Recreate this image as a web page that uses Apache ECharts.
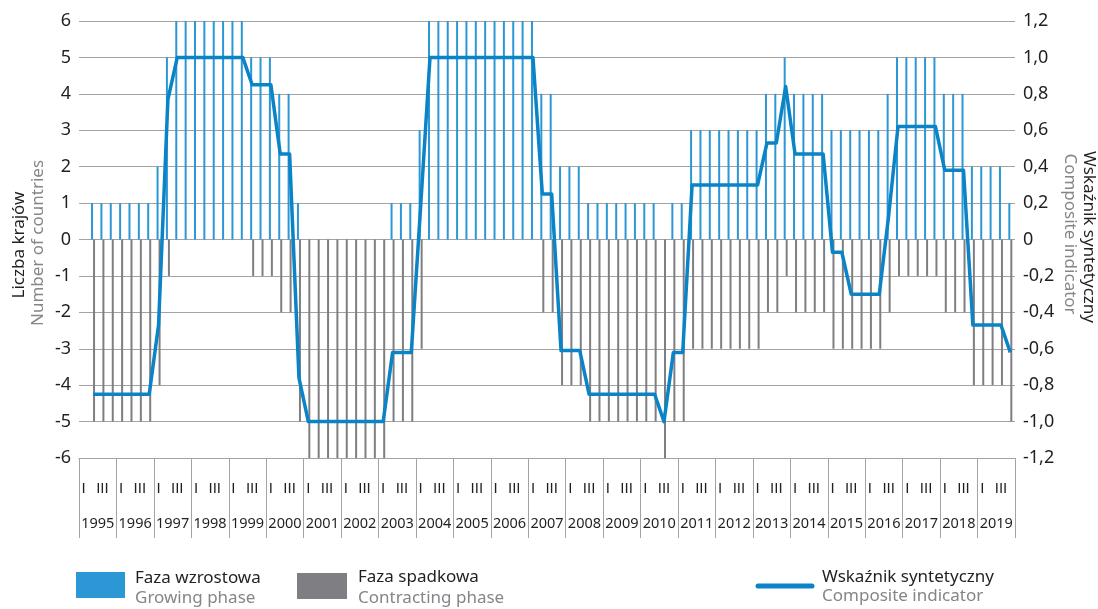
<!DOCTYPE html>
<html>
<head>
<meta charset="utf-8">
<title>Faza wzrostowa / spadkowa</title>
<script src="https://cdn.jsdelivr.net/npm/echarts@6/dist/echarts.min.js"></script>
<style>
  html, body { margin: 0; padding: 0; background: #fff; }
  #chart { width: 1098px; height: 609px; }
</style>
</head>
<body>
<div id="chart"></div>
<script>
// lata i kwartaly
const years = ['1995', '1996', '1997', '1998', '1999', '2000', '2001', '2002', '2003', '2004',
  '2005', '2006', '2007', '2008', '2009', '2010', '2011', '2012', '2013', '2014',
  '2015', '2016', '2017', '2018', '2019'];
const quarterNames = ['I', 'II', 'III', 'IV'];
const quarterTickLabels = ['I', '', 'III', ''];

// liczba krajow w fazie wzrostowej
const growing = [
  null, 1, 1, 1,   // 1995
  1, 1, 1, 1,      // 1996
  2, 5, 6, 6,      // 1997
  6, 6, 6, 6,      // 1998
  6, 6, 5, 5,      // 1999
  5, 4, 4, 1,      // 2000
  0, 0, 0, 0,      // 2001
  0, 0, 0, 0,      // 2002
  0, 1, 1, 1,      // 2003
  3, 6, 6, 6,      // 2004
  6, 6, 6, 6,      // 2005
  6, 6, 6, 6,      // 2006
  6, 4, 4, 2,      // 2007
  2, 2, 1, 1,      // 2008
  1, 1, 1, 1,      // 2009
  1, 1, 0, 1,      // 2010
  1, 3, 3, 3,      // 2011
  3, 3, 3, 3,      // 2012
  3, 4, 4, 5,      // 2013
  4, 4, 4, 4,      // 2014
  3, 3, 3, 3,      // 2015
  3, 3, 4, 5,      // 2016
  5, 5, 5, 5,      // 2017
  4, 4, 4, 2,      // 2018
  2, 2, 2, 1       // 2019
];

// liczba krajow w fazie spadkowej
const contracting = [
  null, -5, -5, -5,
  -5, -5, -5, -5,
  -4, -1, 0, 0,
  0, 0, 0, 0,
  0, 0, -1, -1,
  -1, -2, -2, -5,
  -6, -6, -6, -6,
  -6, -6, -6, -6,
  -6, -5, -5, -5,
  -3, 0, 0, 0,
  0, 0, 0, 0,
  0, 0, 0, 0,
  0, -2, -2, -4,
  -4, -4, -5, -5,
  -5, -5, -5, -5,
  -5, -5, -6, -5,
  -5, -3, -3, -3,
  -3, -3, -3, -3,
  -3, -2, -2, -1,
  -2, -2, -2, -2,
  -3, -3, -3, -3,
  -3, -3, -2, -1,
  -1, -1, -1, -1,
  -2, -2, -2, -4,
  -4, -4, -4, -5
];

// wskaznik syntetyczny
const composite = [
  null, -0.85, -0.85, -0.85,
  -0.85, -0.85, -0.85, -0.85,
  -0.47, 0.77, 1.0, 1.0,
  1.0, 1.0, 1.0, 1.0,
  1.0, 1.0, 0.85, 0.85,
  0.85, 0.47, 0.47, -0.76,
  -1.0, -1.0, -1.0, -1.0,
  -1.0, -1.0, -1.0, -1.0,
  -1.0, -0.62, -0.62, -0.62,
  0.18, 1.0, 1.0, 1.0,
  1.0, 1.0, 1.0, 1.0,
  1.0, 1.0, 1.0, 1.0,
  1.0, 0.25, 0.25, -0.61,
  -0.61, -0.61, -0.85, -0.85,
  -0.85, -0.85, -0.85, -0.85,
  -0.85, -0.85, -1.0, -0.62,
  -0.62, 0.30, 0.30, 0.30,
  0.30, 0.30, 0.30, 0.30,
  0.30, 0.53, 0.53, 0.84,
  0.47, 0.47, 0.47, 0.47,
  -0.07, -0.07, -0.30, -0.30,
  -0.30, -0.30, 0.13, 0.62,
  0.62, 0.62, 0.62, 0.62,
  0.38, 0.38, 0.38, -0.47,
  -0.47, -0.47, -0.47, -0.62
];

const quarters = [];
years.forEach(function (y) {
  quarterNames.forEach(function (q) { quarters.push(y + ' ' + q); });
});

const FONT = '"Noto Sans", sans-serif';
const DARK = '#231f20';
const GREY_TEXT = '#85858a';
const BLUE = '#2c97d5';
const GREY = '#7e7e83';
const LINE = '#0a83c7';
const GRID = '#a3a3a3';

const chart = echarts.init(document.getElementById('chart'));

chart.setOption({
  animation: false,
  textStyle: { fontFamily: FONT },
  grid: { left: 79, right: 83, top: 21, bottom: 151 },
  xAxis: [
    {
      type: 'category',
      data: quarters,
      axisLine: { onZero: false, lineStyle: { color: GRID } },
      axisTick: { show: false },
      axisLabel: {
        interval: 0,
        margin: 23,
        fontSize: 15,
        fontFamily: '"Liberation Sans", sans-serif',
        color: DARK,
        formatter: function (v, i) { return quarterTickLabels[i % 4]; }
      }
    },
    {
      // lata - osobna os z separatorami
      type: 'category',
      data: years,
      position: 'bottom',
      axisLine: { show: false, onZero: false },
      axisTick: { show: true, interval: 0, length: 80, lineStyle: { color: GRID } },
      axisLabel: { interval: 0, margin: 58, fontSize: 14.5, fontFamily: 'Noto Sans', color: DARK }
    }
  ],
  yAxis: [
    {
      type: 'value',
      min: -6,
      max: 6,
      interval: 1,
      axisLine: { show: false },
      axisTick: { show: false },
      axisLabel: { fontSize: 18, color: DARK, margin: 8 },
      splitLine: { lineStyle: { color: GRID, width: 1 } }
    },
    {
      type: 'value',
      min: -1.2,
      max: 1.2,
      interval: 0.2,
      axisLine: { show: false },
      axisTick: { show: false },
      splitLine: { show: false },
      axisLabel: {
        fontSize: 18,
        color: DARK,
        margin: 8,
        formatter: function (v) {
          if (Math.abs(v) < 1e-9) return '0';
          return v.toFixed(1).replace('.', ',');
        }
      }
    }
  ],
  series: [
    {
      name: 'Faza wzrostowa',
      type: 'bar',
      data: growing,
      barWidth: 2,
      barGap: '0%',
      itemStyle: { color: BLUE }
    },
    {
      name: 'Faza spadkowa',
      type: 'bar',
      data: contracting,
      barWidth: 2,
      barGap: '0%',
      itemStyle: { color: GREY }
    },
    {
      name: 'Wskaźnik syntetyczny',
      type: 'line',
      yAxisIndex: 1,
      data: composite,
      symbol: 'none',
      z: 5,
      lineStyle: { color: LINE, width: 3.5, join: 'round' }
    }
  ],
  graphic: [
    // tytuly osi
    { type: 'text', x: 19, y: 245, rotation: Math.PI / 2,
      style: { text: 'Liczba krajów', fill: DARK, font: '17px ' + FONT, align: 'center', verticalAlign: 'middle' } },
    { type: 'text', x: 38, y: 243, rotation: Math.PI / 2,
      style: { text: 'Number of countries', fill: GREY_TEXT, font: '17px ' + FONT, align: 'center', verticalAlign: 'middle' } },
    { type: 'text', x: 1089, y: 237, rotation: -Math.PI / 2,
      style: { text: 'Wskaźnik syntetyczny', fill: DARK, font: '17px ' + FONT, align: 'center', verticalAlign: 'middle' } },
    { type: 'text', x: 1070, y: 234, rotation: -Math.PI / 2,
      style: { text: 'Composite indicator', fill: GREY_TEXT, font: '17px ' + FONT, align: 'center', verticalAlign: 'middle' } },
    // legenda
    { type: 'rect', shape: { x: 76, y: 572, width: 49, height: 26 }, style: { fill: BLUE } },
    { type: 'text', x: 135, y: 578,
      style: { text: 'Faza wzrostowa', fill: DARK, font: '17px ' + FONT, verticalAlign: 'middle' } },
    { type: 'text', x: 135, y: 598,
      style: { text: 'Growing phase', fill: GREY_TEXT, font: '17px ' + FONT, verticalAlign: 'middle' } },
    { type: 'rect', shape: { x: 297, y: 573, width: 50, height: 26 }, style: { fill: GREY } },
    { type: 'text', x: 358, y: 577,
      style: { text: 'Faza spadkowa', fill: DARK, font: '17px ' + FONT, verticalAlign: 'middle' } },
    { type: 'text', x: 358, y: 598,
      style: { text: 'Contracting phase', fill: GREY_TEXT, font: '17px ' + FONT, verticalAlign: 'middle' } },
    { type: 'line', shape: { x1: 758, y1: 586, x2: 812, y2: 586 },
      style: { stroke: LINE, lineWidth: 5, lineCap: 'round' } },
    { type: 'text', x: 822, y: 577,
      style: { text: 'Wskaźnik syntetyczny', fill: DARK, font: '17px ' + FONT, verticalAlign: 'middle' } },
    { type: 'text', x: 822, y: 596,
      style: { text: 'Composite indicator', fill: GREY_TEXT, font: '17px ' + FONT, verticalAlign: 'middle' } }
  ]
});

window.onresize = function () {
  chart.resize();
};
</script>
</body>
</html>
